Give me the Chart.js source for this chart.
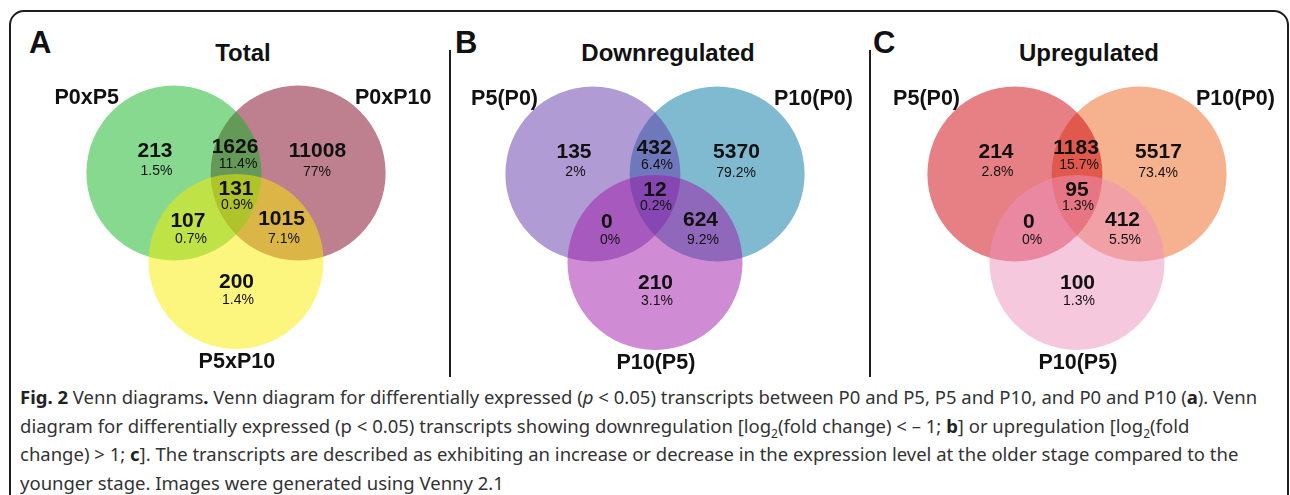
<!DOCTYPE html>
<html>
<head>
<meta charset="utf-8">
<script src="https://cdn.jsdelivr.net/npm/chart.js@4.4.1/dist/chart.umd.min.js"></script>
<style>
  html, body { margin: 0; padding: 0; background: #fff; }
  #fig { position: relative; width: 1290px; height: 495px; overflow: hidden; font-family: "Liberation Sans", Arial, sans-serif; }
  .frame { position: absolute; left: 9px; top: 10px; width: 1280px; height: 600px; box-sizing: border-box; border: 2px solid #1e1e1e; border-radius: 15px; }
  .divider { position: absolute; top: 50px; height: 327px; width: 2px; background: #1e1e1e; }
  .letter { position: absolute; top: 27px; font-weight: bold; font-size: 31px; line-height: 31px; color: #111; }
  .title { position: absolute; top: 41px; font-weight: bold; font-size: 24px; line-height: 24px; color: #111; transform: translateX(-50%); white-space: nowrap; }
  .panel { position: absolute; top: 12px; }
  .caption { position: absolute; left: 20px; top: 383px; font-family: "Noto Sans", "Open Sans", sans-serif; font-size: 18.5px; line-height: 28.5px; color: #333; white-space: nowrap; }
  .caption b { color: #222; }
  .caption .sub { position: relative; top: 5px; font-size: 12px; line-height: 0; }
</style>
</head>
<body>
<div id="fig">
  <div class="frame"></div>
  <div class="divider" style="left:449px"></div>
  <div class="divider" style="left:869px"></div>

  <div class="letter" style="left:29px">A</div>
  <div class="letter" style="left:455px">B</div>
  <div class="letter" style="left:873px">C</div>

  <div class="title" style="left:243px">Total</div>
  <div class="title" style="left:668px">Downregulated</div>
  <div class="title" style="left:1089px">Upregulated</div>

  <canvas id="vennA" class="panel" width="420" height="365" style="left:26px"></canvas>
  <canvas id="vennB" class="panel" width="420" height="365" style="left:445px;top:13px"></canvas>
  <canvas id="vennC" class="panel" width="420" height="365" style="left:867px;top:13px"></canvas>

  <div class="caption">
    <b>Fig. 2</b> Venn diagrams<b>.</b> Venn diagram for differentially expressed (<i>p</i> &lt; 0.05) transcripts between P0 and P5, P5 and P10, and P0 and P10 (<b>a</b>). Venn<br>
    diagram for differentially expressed (p &lt; 0.05) transcripts showing downregulation [log<span class="sub">2</span>(fold change) &lt; – 1; <b>b</b>] or upregulation [log<span class="sub">2</span>(fold<br>
    change) &gt; 1; <b>c</b>]. The transcripts are described as exhibiting an increase or decrease in the expression level at the older stage compared to the<br>
    younger stage. Images were generated using Venny 2.1
  </div>
</div>

<script>
// region order: only left, left&right, only right, all three, left&bottom, right&bottom, only bottom
const setsTotal = ["P0xP5", "P0xP10", "P5xP10"];
const countsTotal = [213, 1626, 11008, 131, 107, 1015, 200];
const pctTotal = ["1.5%", "11.4%", "77%", "0.9%", "0.7%", "7.1%", "1.4%"];

const setsDown = ["P5(P0)", "P10(P0)", "P10(P5)"];
const countsDown = [135, 432, 5370, 12, 0, 624, 210];
const pctDown = ["2%", "6.4%", "79.2%", "0.2%", "0%", "9.2%", "3.1%"];

const setsUp = ["P5(P0)", "P10(P0)", "P10(P5)"];
const countsUp = [214, 1183, 5517, 95, 0, 412, 100];
const pctUp = ["2.8%", "15.7%", "73.4%", "1.3%", "0%", "5.5%", "1.3%"];

// circle colours (drawn at 50% opacity so the overlaps mix)
const colorsTotal = ["rgba(13,179,31,0.5)", "rgba(125,0,31,0.5)", "rgba(249,237,0,0.5)"];
const colorsDown = ["rgba(97,55,169,0.5)", "rgba(1,117,161,0.5)", "rgba(159,23,169,0.5)"];
const colorsUp = ["rgba(205,1,9,0.5)", "rgba(237,101,31,0.5)", "rgba(237,145,189,0.5)"];

// venn geometry in circle-radius units
const PX = 87.5; // pixels per unit
const circleCenters = [[-0.71, 0], [0.71, 0], [0, 1.01]];
const countPos = [[-0.926, -0.274], [-0.011, -0.309], [0.931, -0.274], [0, 0.171], [-0.549, 0.526], [0.52, 0.514], [0.006, 1.234]];
const pctPos = [[-0.909, -0.034], [0.023, -0.114], [0.926, -0.023], [0.011, 0.354], [-0.514, 0.743], [0.549, 0.743], [0.023, 1.44]];
const setPos = [[-1.337, -0.88, "right"], [1.36, -0.88, "left"], [0.01, 2.137, "center"]];

const FONT = '"Liberation Sans", Arial, sans-serif';

function unitPx(chart) {
  const s = chart.scales.x;
  return s.getPixelForValue(1) - s.getPixelForValue(0);
}

// draw text so its cap height is centred on y
function capText(ctx, txt, x, y, size, weight, align) {
  ctx.font = weight + " " + size + "px " + FONT;
  ctx.textAlign = align;
  ctx.textBaseline = "alphabetic";
  ctx.fillText(txt, x, y + size * 0.358);
}

const vennText = {
  id: "vennText",
  afterDatasetsDraw(chart, args, opts) {
    const { ctx } = chart;
    const x = chart.scales.x, y = chart.scales.y;
    ctx.save();
    ctx.fillStyle = "#111";
    opts.counts.forEach((c, i) => {
      capText(ctx, String(c), x.getPixelForValue(countPos[i][0]), y.getPixelForValue(countPos[i][1]), 21, "bold", "center");
      capText(ctx, opts.pcts[i], x.getPixelForValue(pctPos[i][0]), y.getPixelForValue(pctPos[i][1]), 14, "normal", "center");
    });
    opts.sets.forEach((s, i) => {
      capText(ctx, s, x.getPixelForValue(setPos[i][0]), y.getPixelForValue(setPos[i][1]), 21.5, "bold", setPos[i][2]);
    });
    ctx.restore();
  }
};

function makeVenn(id, sets, counts, pcts, colors, topPx) {
  // right circle underneath, then left, bottom circle on top
  const drawOrder = [2, 3, 1];
  const datasets = sets.map((name, i) => ({
    label: name,
    data: [{ x: circleCenters[i][0], y: circleCenters[i][1] }],
    showLine: false,
    pointBackgroundColor: colors[i],
    pointBorderWidth: 0,
    pointRadius: (c) => unitPx(c.chart),
    pointHoverRadius: (c) => unitPx(c.chart),
    order: drawOrder[i],
    clip: false
  }));
  const canvas = document.getElementById(id);
  const yMin = -topPx / PX;
  return new Chart(canvas, {
    type: "scatter",
    data: { datasets },
    options: {
      responsive: false,
      animation: false,
      events: [],
      layout: { padding: 0 },
      scales: {
        x: { type: "linear", display: false, min: -canvas.width / 2 / PX, max: canvas.width / 2 / PX },
        y: { type: "linear", display: false, reverse: true, min: yMin, max: yMin + canvas.height / PX }
      },
      plugins: {
        legend: { display: false },
        tooltip: { enabled: false },
        vennText: { sets, counts, pcts }
      }
    },
    plugins: [vennText]
  });
}

makeVenn("vennA", setsTotal, countsTotal, pctTotal, colorsTotal, 161);
makeVenn("vennB", setsDown, countsDown, pctDown, colorsDown, 161);
makeVenn("vennC", setsUp, countsUp, pctUp, colorsUp, 161);
</script>
</body>
</html>
